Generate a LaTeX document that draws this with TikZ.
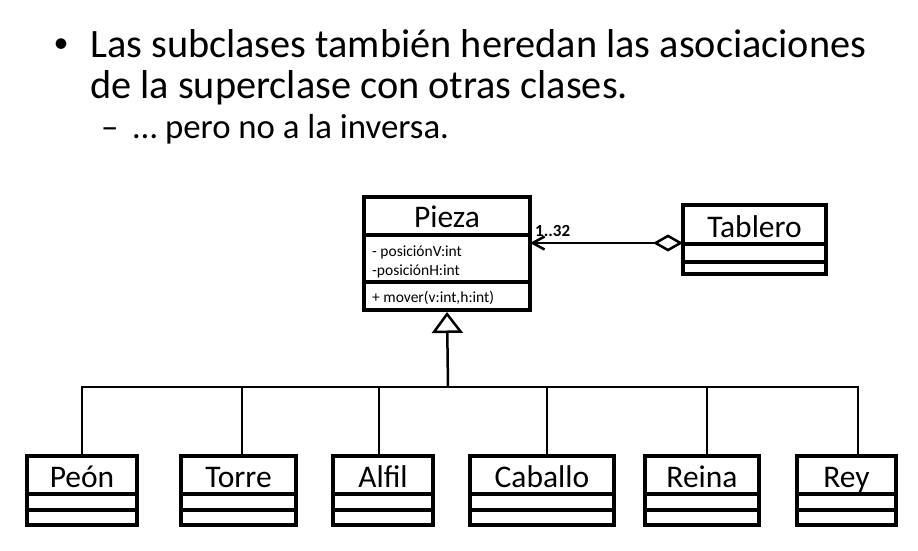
\documentclass[tikz,border=0pt]{standalone}
\usepackage{fontspec}
\setmainfont{Carlito}
\usetikzlibrary{arrows.meta}
\tikzset{
  clsbox/.style={draw, line width=3.5pt, inner sep=0pt, outer sep=0pt, rectangle},
  clsline/.style={line width=3.5pt},
  clstitle/.style={anchor=base, inner sep=0pt, font=\fontsize{31.5}{33}\selectfont},
  attr/.style={anchor=base west, inner sep=0pt, font=\fontsize{15.5}{17}\selectfont},
  bigtext/.style={anchor=base west, inner sep=0pt, font=\fontsize{40.3}{42}\selectfont},
  subtext/.style={anchor=base west, inner sep=0pt, font=\fontsize{34.8}{36}\selectfont},
  assoc/.style={line width=2.5pt, {Diamond[open, length=30pt, width=17pt, line width=2.5pt]}-{Straight Barb[length=12pt, width=13pt, line width=2.5pt]}},
  inh/.style={line width=2.5pt, -{Triangle[open, length=21pt, width=31pt, line width=2.5pt]}, shorten >=2pt},
  bus/.style={line width=2.5pt},
}
% name, x1, y1, x2, y2, divider1, divider2, title, baseline
\newcommand\umlclass[9]{%
  \node[clsbox, minimum width={#4-#2}, minimum height={#5-#3}, anchor=north west] (#1) at (#2,#3) {};
  \draw[clsline] (#2,#6) -- (#4,#6);
  \draw[clsline] (#2,#7) -- (#4,#7);
  \node[clstitle] (#1-t) at ({(#2+#4)/2},#9) {#8};
}
\begin{document}
\begin{tikzpicture}[x=1pt, y=-1pt]
\useasboundingbox (0,0) rectangle (918,551);
% text
\node[anchor=center, inner sep=0pt, font=\fontsize{30}{32}\selectfont] (bul) at (61,46) {•};
\node[bigtext] (l1) at (90,58) {Las subclases también heredan las asociaciones};
\node[bigtext] (l2) at (90,99) {de la superclase con otras clases.};
\node[subtext] (dash) at (101,138) {–};
\node[subtext] (l3) at (133,138) {… pero no a la inversa.};
% classes
\umlclass{pieza}{364}{197}{530}{310}{235}{282}{Pieza}{227}
\node[attr] (a1) at (372,256) {- posiciónV:int};
\node[attr] (a2) at (372,275) {-posiciónH:int};
\node[attr] (m1) at (372,302) {+ mover(v:int,h:int)};
\umlclass{tablero}{683}{205}{826}{274}{244}{262}{Tablero}{237}
\umlclass{peon}{27}{456}{137}{525}{494}{510}{Peón}{487}
\umlclass{torre}{181}{456}{296}{525}{494}{510}{Torre}{487}
\umlclass{alfil}{333}{456}{433}{525}{494}{510}{Alfil}{487}
\umlclass{caballo}{470}{456}{614}{525}{494}{510}{Caballo}{487}
\umlclass{reina}{645}{456}{759}{525}{494}{510}{Reina}{487}
\umlclass{rey}{797}{456}{896}{525}{494}{510}{Rey}{487}
% association
\draw[assoc] ([yshift=-3.5pt]tablero.west) -- ([yshift=-3.5pt]tablero.west -| pieza.east);
\node[anchor=base west, inner sep=0pt, font=\fontsize{17}{19}\selectfont\bfseries] (mult) at (535,236) {1..32};
% inheritance
\coordinate (hub) at (448,387);
\draw[inh] (hub) -- (pieza.south);
\draw[bus] (peon.north) |- (hub);
\draw[bus] ([xshift=3.5pt]torre.north) |- (hub);
\draw[bus] ([xshift=-4pt]alfil.north) |- (hub);
\draw[bus] ([xshift=5pt]caballo.north) |- (hub);
\draw[bus] ([xshift=5pt]reina.north) |- (hub);
\draw[bus] ([xshift=11.5pt]rey.north) |- (hub);
\end{tikzpicture}
\end{document}
